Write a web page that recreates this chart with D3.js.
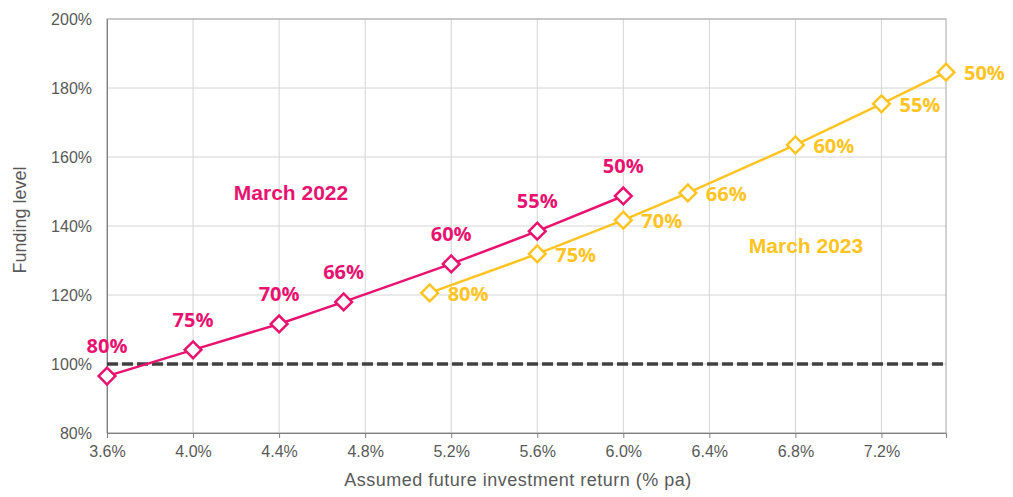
<!DOCTYPE html>
<html>
<head>
<meta charset="utf-8">
<script src="https://cdn.jsdelivr.net/npm/d3@7"></script>
<style>
  body { margin: 0; background: #fff; }
  svg { display: block; }
</style>
</head>
<body>
<div id="chart"></div>
<script>
// Funding level vs assumed future return, two valuation dates
const returns2022 = [3.6, 4.0, 4.4, 4.7, 5.2, 5.6, 6.0];
const funding2022 = [96.5, 104.1, 111.6, 118.0, 129.0, 138.5, 148.7];
const labels2022 = ['80%', '75%', '70%', '66%', '60%', '55%', '50%'];

const returns2023 = [5.1, 5.6, 6.0, 6.3, 6.8, 7.2, 7.5];
const funding2023 = [120.6, 131.9, 141.7, 149.6, 163.5, 175.4, 184.6];
const labels2023 = ['80%', '75%', '70%', '66%', '60%', '55%', '50%'];

const xTicks = [3.6, 4.0, 4.4, 4.8, 5.2, 5.6, 6.0, 6.4, 6.8, 7.2];
const yTicks = [80, 100, 120, 140, 160, 180, 200];

const width = 1013, height = 497;
const margin = { top: 19, right: 67, bottom: 64, left: 107 };
const PINK = '#e8126f', GOLD = '#ffc423';
const AXIS_FONT = '"Liberation Sans", Arial, sans-serif';
const LABEL_FONT = '"Open Sans", sans-serif';

const svg = d3.select('#chart').append('svg')
    .attr('width', width)
    .attr('height', height);

const x = d3.scaleLinear().domain([3.6, 7.5]).range([margin.left, width - margin.right]);
const y = d3.scaleLinear().domain([80, 200]).range([height - margin.bottom, margin.top]);

// Grid
svg.append('g')
    .selectAll('line')
    .data(xTicks)
    .join('line')
    .attr('x1', d => x(d)).attr('x2', d => x(d))
    .attr('y1', y(200)).attr('y2', y(80))
    .attr('stroke', '#d4d4d4').attr('stroke-width', 1);

svg.append('g')
    .selectAll('line')
    .data(yTicks)
    .join('line')
    .attr('x1', x(3.6)).attr('x2', x(7.5))
    .attr('y1', d => y(d)).attr('y2', d => y(d))
    .attr('stroke', '#d4d4d4').attr('stroke-width', 1);

// Plot border
svg.append('rect')
    .attr('x', x(3.6)).attr('y', y(200))
    .attr('width', x(7.5) - x(3.6)).attr('height', y(80) - y(200))
    .attr('fill', 'none').attr('stroke', '#a6a6a6').attr('stroke-width', 1);

// Axes
const xAxis = svg.append('g')
    .attr('transform', `translate(0,${y(80)})`)
    .call(d3.axisBottom(x).tickValues(xTicks).tickSize(5).tickPadding(8).tickFormat(d => d.toFixed(1) + '%'));
const yAxis = svg.append('g')
    .attr('transform', `translate(${x(3.6)},0)`)
    .call(d3.axisLeft(y).tickValues(yTicks).tickSize(0).tickPadding(15).tickFormat(d => d + '%'));

[xAxis, yAxis].forEach(a => {
    a.select('.domain').attr('stroke', '#808080');
    a.selectAll('.tick line').attr('stroke', '#808080');
    a.selectAll('text')
        .attr('fill', '#595959')
        .style('font-family', AXIS_FONT)
        .style('font-size', '16px');
});

// Axis titles
svg.append('text')
    .attr('x', 518)
    .attr('y', 486)
    .attr('text-anchor', 'middle')
    .attr('fill', '#595959')
    .style('font-family', AXIS_FONT)
    .style('font-size', '18px')
    .style('letter-spacing', '0.5px')
    .text('Assumed future investment return (% pa)');

svg.append('text')
    .attr('transform', `translate(26,220) rotate(-90)`)
    .attr('text-anchor', 'middle')
    .attr('fill', '#595959')
    .style('font-family', AXIS_FONT)
    .style('font-size', '18px')
    .text('Funding level');

// 100% reference line
svg.append('line')
    .attr('x1', x(3.6)).attr('x2', x(7.5))
    .attr('y1', y(100)).attr('y2', y(100))
    .attr('stroke', '#404040').attr('stroke-width', 3.5)
    .attr('stroke-dasharray', '11,4');

function drawSeries(xs, ys, labels, color, labelPos) {
    const pts = xs.map((v, i) => ({ x: v, y: ys[i], label: labels[i] }));
    const line = d3.line().x(d => x(d.x)).y(d => y(d.y));

    svg.append('path')
        .datum(pts)
        .attr('d', line)
        .attr('fill', 'none')
        .attr('stroke', color)
        .attr('stroke-width', 2.5);

    svg.append('g')
        .selectAll('path')
        .data(pts)
        .join('path')
        .attr('d', d3.symbol().type(d3.symbolSquare).size(140))
        .attr('transform', d => `translate(${x(d.x)},${y(d.y)}) rotate(45)`)
        .attr('fill', '#fff')
        .attr('stroke', color)
        .attr('stroke-width', 2.5);

    svg.append('g')
        .selectAll('text')
        .data(pts)
        .join('text')
        .attr('x', d => x(d.x) + labelPos.dx)
        .attr('y', d => y(d.y) + labelPos.dy)
        .attr('text-anchor', labelPos.anchor)
        .attr('fill', color)
        .style('font-family', LABEL_FONT)
        .style('font-weight', 700)
        .style('font-size', '20px')
        .text(d => d.label);
}

drawSeries(returns2022, funding2022, labels2022, PINK, { dx: 0, dy: -23, anchor: 'middle' });
drawSeries(returns2023, funding2023, labels2023, GOLD, { dx: 18, dy: 8, anchor: 'start' });

// Series names
svg.append('text')
    .attr('x', 291).attr('y', 200)
    .attr('text-anchor', 'middle')
    .attr('fill', PINK)
    .style('font-family', AXIS_FONT)
    .style('font-weight', 700)
    .style('font-size', '21px')
    .text('March 2022');

svg.append('text')
    .attr('x', 806).attr('y', 253)
    .attr('text-anchor', 'middle')
    .attr('fill', GOLD)
    .style('font-family', AXIS_FONT)
    .style('font-weight', 700)
    .style('font-size', '21px')
    .text('March 2023');
</script>
</body>
</html>
